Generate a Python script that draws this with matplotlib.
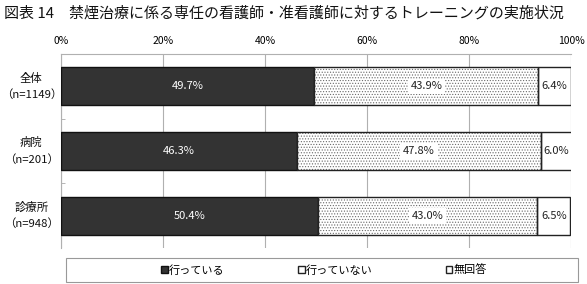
import numpy as np
import matplotlib.pyplot as plt
from matplotlib.patches import Patch, Rectangle

plt.rcParams['font.family'] = ['Noto Sans CJK JP', 'DejaVu Sans']
plt.rcParams['hatch.linewidth'] = 0.5

# data
categories = ['全体\n（n=1149）', '病院\n（n=201）', '診療所\n（n=948）']
done = [49.7, 46.3, 50.4]
not_done = [43.9, 47.8, 43.0]
no_answer = [6.4, 6.0, 6.5]
series_names = ['行っている', '行っていない', '無回答']
xticks = [0, 20, 40, 60, 80, 100]

fig = plt.figure(figsize=(5.87, 2.84), dpi=100)
ax = fig.add_axes([61 / 587, 1 - 248 / 284, 510 / 587, 194 / 284])

y = np.arange(len(categories))
h = 0.59
left2 = np.array(done) + np.array(not_done)

ax.barh(y, done, height=h, color='#333333', edgecolor='#111111', linewidth=1.0, zorder=3)
# dotted fill, then a dark outline on top
ax.barh(y, not_done, left=done, height=h, color='white', edgecolor='#6a6a6a',
        hatch='......', linewidth=0, zorder=3)
ax.barh(y, not_done, left=done, height=h, color='none', edgecolor='#222222',
        linewidth=1.0, zorder=4)
ax.barh(y, no_answer, left=left2, height=h, color='white', edgecolor='#222222',
        linewidth=1.0, zorder=3)

for i in range(len(categories)):
    ax.text(done[i] / 2, y[i], f'{done[i]:.1f}%', ha='center', va='center',
            color='white', fontsize=8, zorder=5)
    ax.text(done[i] + not_done[i] / 2, y[i], f'{not_done[i]:.1f}%', ha='center',
            va='center', color='#222222', fontsize=8, zorder=5,
            bbox=dict(facecolor='white', edgecolor='none', pad=2))
    ax.text(left2[i] + no_answer[i] / 2, y[i], f'{no_answer[i]:.1f}%', ha='center',
            va='center', color='#222222', fontsize=8, zorder=5)
    ax.text(-0.058, y[i], categories[i], transform=ax.get_yaxis_transform(),
            ha='center', va='center', fontsize=8.2, linespacing=1.6, color='#111111')

ax.set_xlim(0, 100)
ax.set_ylim(len(categories) - 0.5, -0.5)
ax.xaxis.tick_top()
ax.set_xticks(xticks)
ax.set_xticklabels([f'{t}%' for t in xticks], fontsize=7.5)
ax.tick_params(axis='x', length=0, pad=6)
ax.set_yticks([])
ax.set_yticks([0.5, 1.5], minor=True)
ax.tick_params(axis='y', which='minor', direction='in', length=3, color='#aaaaaa')

ax.grid(axis='x', color='#b0b0b0', linewidth=0.8, zorder=0)
for s in ['top', 'left']:
    ax.spines[s].set_color('#b0b0b0')
    ax.spines[s].set_linewidth(0.8)
for s in ['right', 'bottom']:
    ax.spines[s].set_visible(False)

handles = [
    Patch(facecolor='#333333', edgecolor='#111111'),
    Patch(facecolor='white', edgecolor='#222222'),
    Patch(facecolor='white', edgecolor='#222222'),
]
fig.legend(handles, series_names, ncol=3, loc='center',
           bbox_to_anchor=(324 / 587, 1 - 270 / 284), fontsize=8,
           frameon=False, handlelength=0.6, handleheight=0.6,
           handletextpad=0.1, columnspacing=6.6)
fig.patches.append(Rectangle((66 / 587, 1 - 282 / 284), 512 / 587, 24 / 284,
                             transform=fig.transFigure, facecolor='none',
                             edgecolor='#999999', linewidth=0.8))

fig.text(4 / 587, 1 - 13 / 284, '図表 14　禁煙治療に係る専任の看護師・准看護師に対するトレーニングの実施状況',
         fontsize=10.8, va='center', ha='left', color='#111111')

fig.savefig('out.png', dpi=100)
